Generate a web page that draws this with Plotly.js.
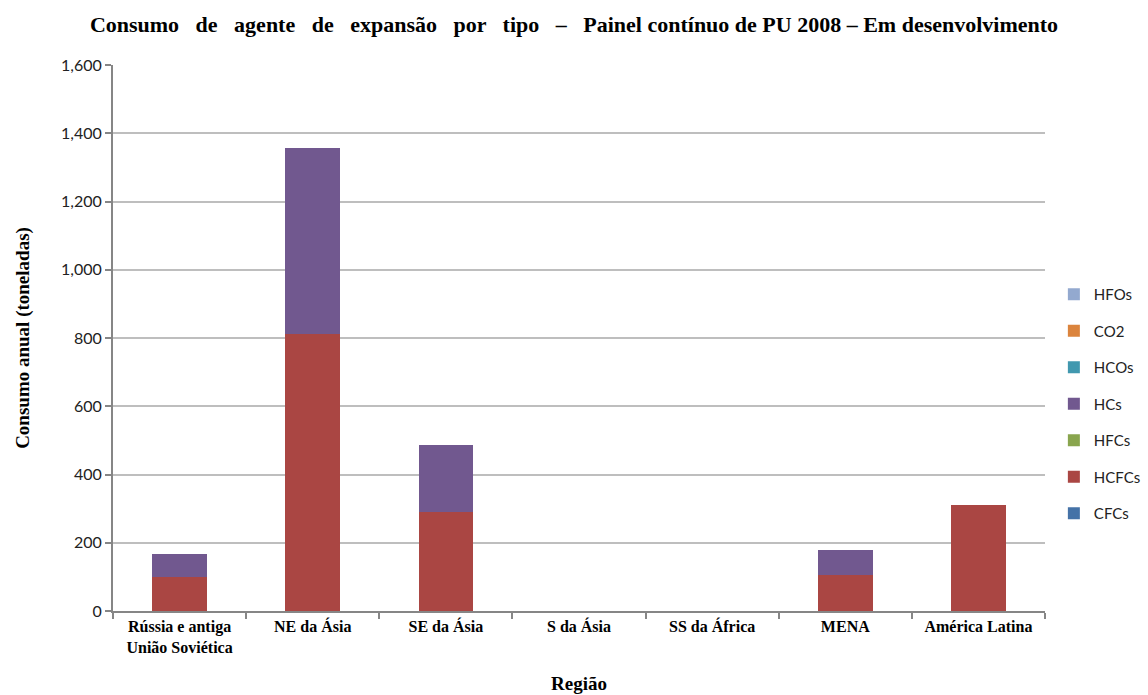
<!DOCTYPE html>
<html>
<head>
<meta charset="utf-8">
<script src="https://cdn.plot.ly/plotly-3.0.1.min.js"></script>
<style>html,body{margin:0;padding:0;background:#fff;}#chart{width:1148px;height:695px;}</style>
</head>
<body>
<div id="chart"></div>
<script>
const regions = ["Rússia e antiga<br>União Soviética", "NE da Ásia", "SE da Ásia", "S da Ásia", "SS da África", "MENA", "América Latina"];
const CFCs  = [0, 0, 0, 0, 0, 0, 0];
const HCFCs = [99, 812, 290, 0, 0, 105, 311];
const HFCs  = [0, 0, 0, 0, 0, 0, 0];
const HCs   = [67, 545, 195, 0, 0, 74, 0];
const HCOs  = [0, 0, 0, 0, 0, 0, 0];
const CO2   = [0, 0, 0, 0, 0, 0, 0];
const HFOs  = [0, 0, 0, 0, 0, 0, 0];

const seriesNames = ["CFCs", "HCFCs", "HFCs", "HCs", "HCOs", "CO2", "HFOs"];
const seriesValues = [CFCs, HCFCs, HFCs, HCs, HCOs, CO2, HFOs];
const seriesColors = ["#4572A7", "#AA4643", "#89A54E", "#71588F", "#4198AF", "#DB843D", "#93A9CF"];

const traces = seriesNames.map((n, i) => ({
  type: "bar",
  name: n,
  legendgroup: n,
  legendrank: 100 - i,
  x: regions,
  y: seriesValues[i],
  marker: {color: seriesColors[i], line: {width: 0}},
  hoverinfo: "x+y+name"
}));

const serif = "Liberation Serif, Times New Roman, serif";
const layout = {
  width: 1148, height: 695,
  barmode: "stack",
  bargap: 0.59,
  paper_bgcolor: "#fff", plot_bgcolor: "#fff",
  margin: {l: 113, r: 103, t: 65, b: 84},
  title: {
    text: "Consumo   de   agente   de   expansão   por   tipo   –   Painel contínuo de PU 2008 – Em desenvolvimento",
    font: {family: serif, size: 22, color: "#000", weight: "bold"},
    x: 0.5, xanchor: "center", y: 0.965, yanchor: "middle"
  },
  xaxis: {
    type: "category",
    tickson: "boundaries",
    ticks: "outside", ticklen: 6, tickcolor: "#868686", tickwidth: 1.5,
    showline: true, linecolor: "#868686", linewidth: 2,
    showgrid: false,
    tickfont: {family: serif, size: 16, color: "#000", weight: "bold"},
    title: {text: "Região", font: {family: serif, size: 19, color: "#000", weight: "bold"}, standoff: 22},
    automargin: false
  },
  yaxis: {
    range: [0, 1600], dtick: 200, tickformat: ",",
    ticks: "outside", ticklen: 6, tickcolor: "#868686", tickwidth: 1.5,
    showline: true, linecolor: "#868686", linewidth: 2,
    showgrid: true, gridcolor: "#BEBEBE", gridwidth: 2,
    zeroline: false,
    tickfont: {family: "Lato, Open Sans, sans-serif", size: 16, color: "#222"},
    title: {text: "Consumo anual (toneladas)", font: {family: serif, size: 19, color: "#000", weight: "bold"}, standoff: 26},
    automargin: false
  },
  legend: {
    xref: "container", yref: "container",
    x: 0.918, y: 0.6, xanchor: "left", yanchor: "top",
    traceorder: "grouped",
    tracegroupgap: 14,
    font: {family: "Lato, Open Sans, sans-serif", size: 15, color: "#222"},
    itemwidth: 30,
    bgcolor: "rgba(0,0,0,0)"
  },
  showlegend: true
};

Plotly.newPlot("chart", traces, layout, {displayModeBar: false});
</script>
</body>
</html>
